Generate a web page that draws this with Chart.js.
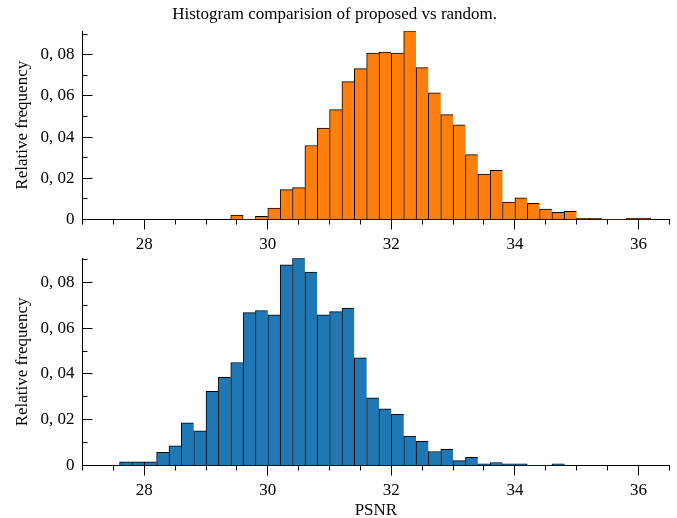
<!DOCTYPE html>
<html>
<head>
<meta charset="utf-8">
<script src="https://cdn.jsdelivr.net/npm/chart.js@4.4.1/dist/chart.umd.min.js"></script>
<style>
  body { margin: 0; background: #fff; }
  #wrap { position: relative; width: 677px; height: 518px; overflow: hidden; }
  canvas { position: absolute; left: 0; }
  #top { top: 0; }
  #bottom { top: 240px; }
</style>
</head>
<body>
<div id="wrap">
  <canvas id="top" width="677" height="262"></canvas>
  <canvas id="bottom" width="677" height="281"></canvas>
</div>
<script>
// ===== Data (bin centres, bin width 0.2) =====
const proposedBins = [29.5, 29.7, 29.9, 30.1, 30.3, 30.5, 30.7, 30.9, 31.1, 31.3, 31.5, 31.7,
  31.9, 32.1, 32.3, 32.5, 32.7, 32.9, 33.1, 33.3, 33.5, 33.7, 33.9, 34.1, 34.3, 34.5, 34.7,
  34.9, 35.1, 35.3, 35.5, 35.7, 35.9, 36.1];
const proposedFreq = [0.0021, 0, 0.0015, 0.0056, 0.0145, 0.0155, 0.0359, 0.0444, 0.0533, 0.0669,
  0.0732, 0.0808, 0.0813, 0.0808, 0.0916, 0.0737, 0.0615, 0.0509, 0.0459, 0.0315, 0.0220, 0.0239,
  0.0085, 0.0105, 0.0078, 0.0051, 0.0035, 0.0040, 0.0006, 0.0006, 0, 0, 0.0007, 0.0007];

const randomBins = [27.7, 27.9, 28.1, 28.3, 28.5, 28.7, 28.9, 29.1, 29.3, 29.5, 29.7, 29.9,
  30.1, 30.3, 30.5, 30.7, 30.9, 31.1, 31.3, 31.5, 31.7, 31.9, 32.1, 32.3, 32.5, 32.7, 32.9,
  33.1, 33.3, 33.5, 33.7, 33.9, 34.1, 34.3, 34.5, 34.7];
const randomFreq = [0.0016, 0.0016, 0.0016, 0.0057, 0.0086, 0.0186, 0.0151, 0.0324, 0.0385, 0.0450,
  0.0668, 0.0677, 0.0658, 0.0876, 0.0906, 0.0845, 0.0658, 0.0672, 0.0688, 0.0470, 0.0296, 0.0247,
  0.0223, 0.0128, 0.0106, 0.0061, 0.0071, 0.0021, 0.0036, 0.0007, 0.0013, 0.0007, 0.0007, 0, 0, 0.0007];

const xMajor = [28, 30, 32, 34, 36];
const xMinor = [27, 27.5, 28.5, 29, 29.5, 30.5, 31, 31.5, 32.5, 33, 33.5, 34.5, 35, 35.5, 36.5];
const yMajor = [0, 0.02, 0.04, 0.06, 0.08];
const yMinor = [0.01, 0.03, 0.05, 0.07, 0.09];

const FONT = "'Liberation Serif', 'Times New Roman', serif";
Chart.defaults.font.family = FONT;
Chart.defaults.color = "#000";

// matplotlib style ticks: x outward, y inward
const tickMarks = {
  id: "tickMarks",
  afterDatasetsDraw(chart) {
    const { ctx, scales: { x, y } } = chart;
    const al = p => Math.round(p - 0.5) + 0.5;
    const xAxis = al(y.getPixelForValue(0));
    const yAxis = al(x.getPixelForValue(x.min));
    ctx.save();
    ctx.strokeStyle = "#000";
    ctx.lineWidth = 1;
    ctx.beginPath();
    const xt = (v, len) => { const p = al(x.getPixelForValue(v)); ctx.moveTo(p, xAxis); ctx.lineTo(p, xAxis + len); };
    const yt = (v, len) => { if (v > y.max) return; const p = al(y.getPixelForValue(v)); ctx.moveTo(yAxis, p); ctx.lineTo(yAxis + len, p); };
    xMajor.forEach(v => xt(v, 10));
    xMinor.forEach(v => xt(v, 5));
    yMajor.forEach(v => yt(v, 10));
    yMinor.forEach(v => yt(v, 5));
    ctx.stroke();
    ctx.restore();
  }
};

function fmtY(v) {
  return v === 0 ? "0" : v.toFixed(2).replace(".", ", ");
}

function histo(id, bins, freq, color, yMax, bottomAxis) {
  const cfg = {
    type: "bar",
    data: {
      datasets: [{
        data: bins.map((b, i) => ({ x: b, y: freq[i] })),
        backgroundColor: color,
        borderColor: "#000",
        borderSkipped: "start",
        // one edge between neighbours, like matplotlib
        borderWidth: c => {
          const v = freq[c.dataIndex];
          if (!v) return 0;
          const next = freq[c.dataIndex + 1];
          return { top: 1, left: 1, right: next ? 0 : 1, bottom: 0 };
        },
        barPercentage: 1,
        categoryPercentage: 1
      }]
    },
    options: {
      responsive: false,
      animation: false,
      layout: { padding: { top: bottomAxis ? 18.3 : 0, right: 7.7, left: 0, bottom: 0 } },
      plugins: {
        legend: { display: false },
        tooltip: { enabled: false },
        title: {
          display: !bottomAxis,
          text: "Histogram comparision of proposed vs random.",
          font: { size: 17, weight: "normal" },
          padding: { top: 4, bottom: 6.6 },
          color: "#000"
        }
      },
      scales: {
        x: {
          type: "linear",
          min: 27, max: 36.5,
          offset: false,
          grid: { display: false, drawTicks: false },
          border: { display: true, color: "#000", width: 1 },
          afterBuildTicks: s => { s.ticks = xMajor.map(v => ({ value: v })); },
          afterFit: s => { s.height = bottomAxis ? 55.5 : 42.5; },
          ticks: { font: { size: 17 }, padding: 15, maxRotation: 0, autoSkip: false, color: "#000" },
          title: { display: bottomAxis, text: "PSNR", font: { size: 17 }, padding: { top: 0, bottom: 0 }, color: "#000" }
        },
        y: {
          min: 0, max: yMax,
          grid: { display: false, drawTicks: false },
          border: { display: true, color: "#000", width: 1 },
          afterBuildTicks: s => { s.ticks = yMajor.map(v => ({ value: v })); },
          afterFit: s => { s.width = 82.5; },
          ticks: { font: { size: 17 }, padding: 8, callback: fmtY, color: "#000" },
          title: { display: true, text: "Relative frequency", font: { size: 17 }, padding: { top: 12.4, bottom: 0 }, color: "#000" }
        }
      }
    },
    plugins: [tickMarks]
  };
  return new Chart(document.getElementById(id), cfg);
}

histo("top", proposedBins, proposedFreq, "#ff7f0e", 0.0915, false);
histo("bottom", randomBins, randomFreq, "#1f77b4", 0.0905, true);
</script>
</body>
</html>
